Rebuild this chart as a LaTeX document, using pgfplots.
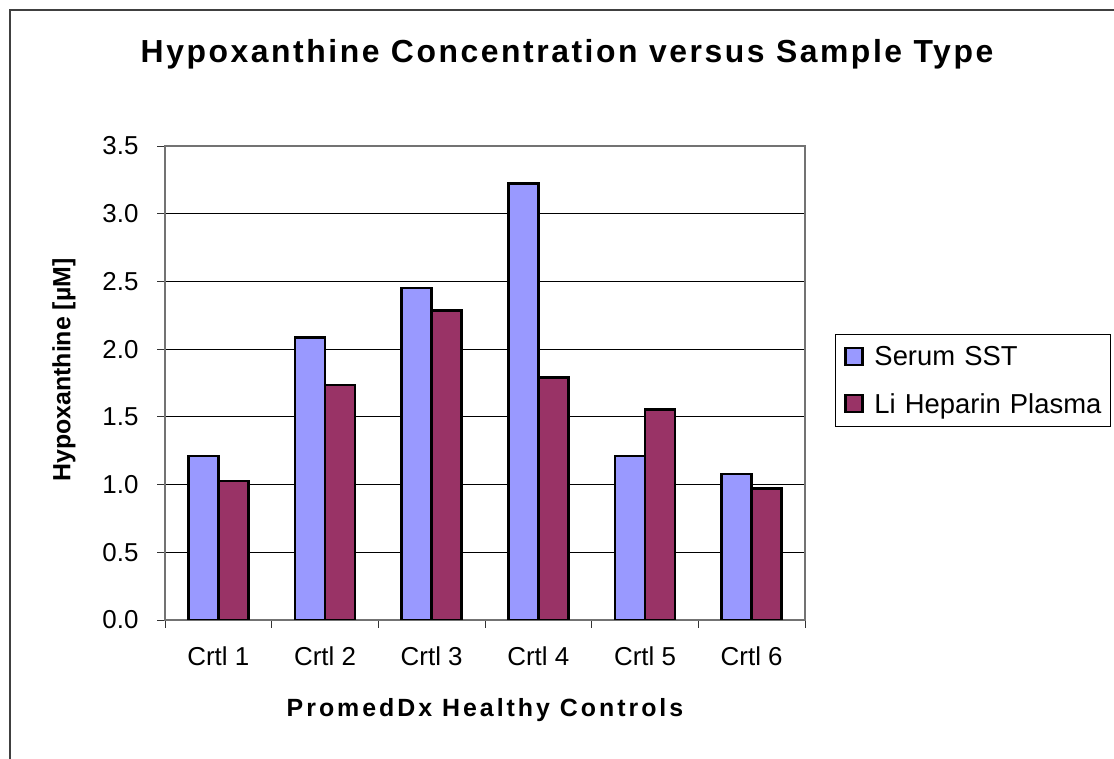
\documentclass[border=0pt]{standalone}
\usepackage{pgfplots}
\pgfplotsset{compat=1.18}
\usepackage{fontspec}
\setmainfont{Liberation Sans}
\definecolor{serum}{HTML}{9999FF}
\definecolor{plasma}{HTML}{993366}
\begin{document}
\begin{tikzpicture}[x=1bp,y=1bp]
\useasboundingbox (0,0) rectangle (1114,759);
\draw[line width=1.5bp, black!75] (10,-20) -- (10,749) -- (1130,749);
\begin{axis}[
  at={(165bp,139bp)}, anchor=south west,
  scale only axis, width=640bp, height=474bp,
  xmin=-0.5, xmax=5.5, ymin=0, ymax=3.5,
  ybar=0pt, bar width=30bp,
  xtick={0,1,2,3,4,5},
  xticklabels={Crtl 1,Crtl 2,Crtl 3,Crtl 4,Crtl 5,Crtl 6},
  minor xtick={-0.5,0.5,1.5,2.5,3.5,4.5,5.5},
  ytick={0,0.5,...,3.5},
  tick pos=left, tick align=outside,
  major tick length=8bp, minor tick length=8bp,
  x tick style={draw=none},
  minor x tick style={draw=black!80, line width=0.8bp},
  y tick style={draw=black!80, line width=0.8bp},
  ymajorgrids, grid style={black, line width=0.8bp},
  axis line style={black!55, line width=1.2bp},
  tick label style={font=\fontsize{26}{30}\selectfont},
  /pgf/number format/assume math mode=true,
  y tick label style={/pgf/number format/fixed, /pgf/number format/fixed zerofill, /pgf/number format/precision=1, xshift=-15bp},
  x tick label style={yshift=-15bp},
  legend style={at={(1.047,0.603)}, anchor=north west, draw=black, line width=0.8bp,
    font=\fontsize{27.5}{31}\selectfont, row sep=22bp, inner xsep=6bp, inner ysep=10bp,
    text width=228bp, cells={anchor=west}},
  legend cell align=left,
  legend image code/.code={\path[draw=none,fill=none] (0bp,0bp) -- (31bp,0bp); \draw[#1, draw=black, line width=2.2bp] (4bp,-8.5bp) rectangle (21bp,8.5bp);},
]
\addplot[fill=serum, draw=black, line width=2.6bp] coordinates {(0,1.21) (1,2.087) (2,2.452) (3,3.223) (4,1.21) (5,1.079)};
\addplot[fill=plasma, draw=black, line width=2.6bp] coordinates {(0,1.025) (1,1.736) (2,2.285) (3,1.79) (4,1.556) (5,0.97)};
\legend{Serum SST, Li Heparin Plasma}
\end{axis}
\node[font=\bfseries\fontsize{32}{36}\selectfont\addfontfeature{LetterSpace=8}] at (567,705) {Hypoxanthine Concentration versus Sample Type};
\node[font=\bfseries\fontsize{25}{29}\selectfont, rotate=90] at (64,389) {Hypoxanthine [µM]};
\node[font=\bfseries\fontsize{25}{29}\selectfont\addfontfeature{LetterSpace=12}] at (485,49) {PromedDx Healthy Controls};
\end{tikzpicture}
\end{document}
